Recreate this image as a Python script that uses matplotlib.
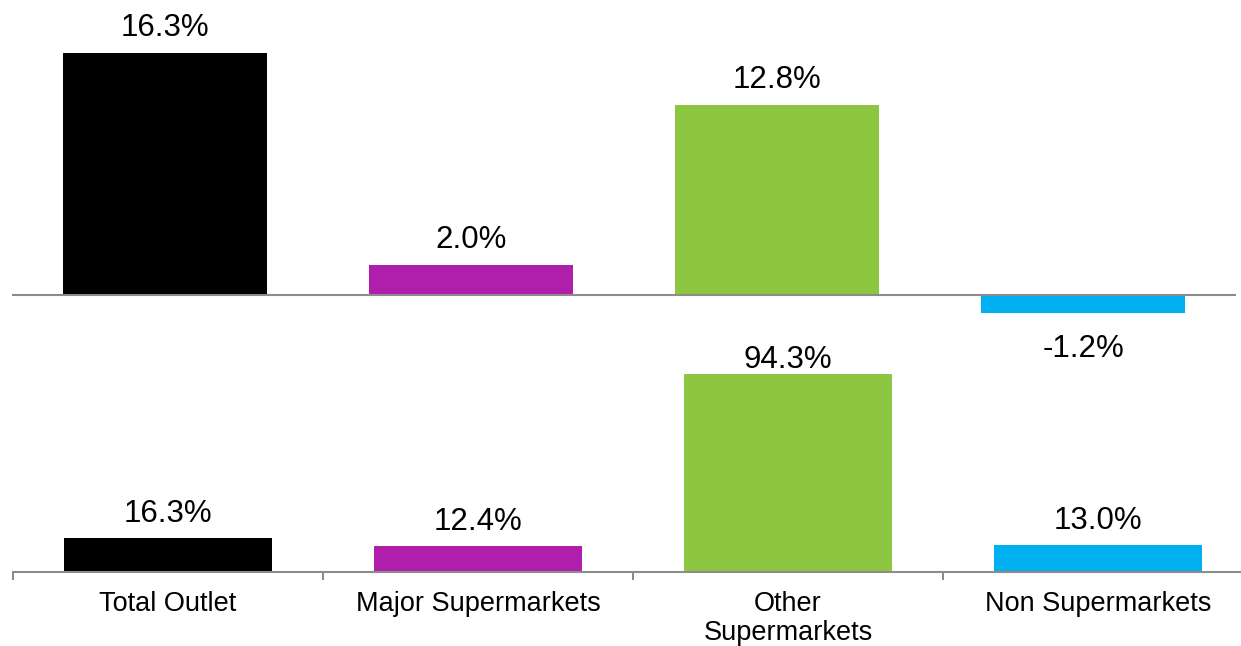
import numpy as np
import matplotlib
matplotlib.use('Agg')
import matplotlib.pyplot as plt

plt.rcParams['font.family'] = ['Liberation Sans', 'DejaVu Sans']

# --- data ---
categories = ['Total Outlet', 'Major Supermarkets', 'Other\nSupermarkets', 'Non Supermarkets']
top_values = [16.3, 2.0, 12.8, -1.2]
bottom_values = [16.3, 12.4, 94.3, 13.0]
colors = ['#000000', '#B01FAC', '#8DC641', '#00B0F0']

W, H = 1241, 646
fig = plt.figure(figsize=(W / 100, H / 100), dpi=100)
GRAY = '#8C8C8C'
x = np.arange(len(categories))

# --- top panel (pixel layout: baseline at 295, ~14.85 px per unit) ---
top_px, bot_px, base_px, scale = 10, 330, 295, 14.85
ax1 = fig.add_axes([12 / W, 1 - bot_px / H, 1224 / W, (bot_px - top_px) / H])
ax1.set_zorder(2)
ax1.bar(x, top_values, width=0.667, color=colors)
ax1.set_xlim(-0.5, 3.5)
ax1.set_ylim(-(bot_px - base_px) / scale, (base_px - top_px) / scale)
ax1.axhline(0, color=GRAY, lw=1.5)
ax1.axis('off')
for xi, v in zip(x, top_values):
    if v >= 0:
        ax1.annotate(f'{v:.1f}%', (xi, v), xytext=(0, 12.5), textcoords='offset points',
                     ha='center', va='baseline', fontsize=22.5)
    else:
        ax1.annotate(f'{v:.1f}%', (xi, v), xytext=(0, -31.5), textcoords='offset points',
                     ha='center', va='baseline', fontsize=22.5)

# --- bottom panel (baseline at 572, ~2.1 px per unit) ---
top_px, base_px, scale = 340, 572, 2.1
ax2 = fig.add_axes([13 / W, 1 - base_px / H, 1240 / W, (base_px - top_px) / H])
ax2.patch.set_alpha(0)
ax2.bar(x, bottom_values, width=0.668, color=colors)
ax2.set_xlim(-0.5, 3.5)
ymax = (base_px - top_px) / scale
ax2.set_ylim(0, ymax)
label_cap = (base_px - 368) / scale  # labels kept inside the plot area
for xi, v in zip(x, bottom_values):
    y = min(v + 16 / scale, label_cap)
    ax2.text(xi, y, f'{v:.1f}%', ha='center', va='baseline', fontsize=22.5)

for s in ['top', 'left', 'right']:
    ax2.spines[s].set_visible(False)
ax2.spines['bottom'].set_color(GRAY)
ax2.spines['bottom'].set_linewidth(1.5)
ax2.set_yticks([])
ax2.set_xticks(x)
ax2.set_xticklabels(categories, fontsize=19.5, linespacing=1.15)
ax2.tick_params(axis='x', which='major', length=0, pad=14)
ax2.set_xticks(np.arange(-0.5, 4.0, 1.0), minor=True)
ax2.tick_params(axis='x', which='minor', length=6, width=1.5, color=GRAY, direction='out')

fig.savefig('out.png', dpi=100)
